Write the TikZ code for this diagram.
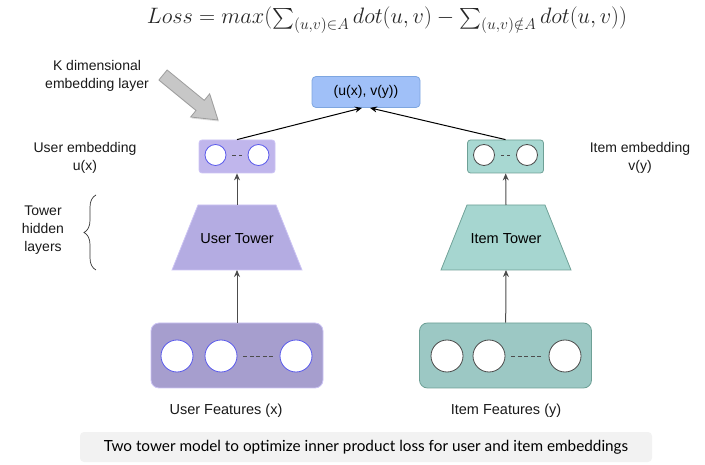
\RequirePackage{fix-cm}
\documentclass[tikz,border=0pt]{standalone}
\usepackage{amsmath}
\usepackage{fontspec}
\setmainfont{Liberation Sans}
\newfontfamily\capfont{Lato}
\usetikzlibrary{arrows.meta,decorations.pathreplacing,shadows}

\definecolor{pairFill}{RGB}{160,192,248}
\definecolor{pairLine}{RGB}{126,166,224}
\definecolor{userEmb}{RGB}{192,182,236}
\definecolor{userTow}{RGB}{180,172,226}
\definecolor{userFeat}{RGB}{166,158,206}
\definecolor{userLine}{RGB}{204,196,244}
\definecolor{userCirc}{RGB}{90,90,235}
\definecolor{itemEmb}{RGB}{168,216,210}
\definecolor{itemTow}{RGB}{166,214,208}
\definecolor{itemFeat}{RGB}{156,200,196}
\definecolor{itemLine}{RGB}{110,160,150}
\definecolor{itemCirc}{RGB}{75,75,75}
\definecolor{capFill}{RGB}{242,242,242}

\begin{document}
\begin{tikzpicture}[x=1pt, y=-1pt, >={Stealth[length=7pt,width=6pt]},
    lbl/.style={font=\fontsize{14}{18}\selectfont, align=center, text=black!90},
    embbox/.style={rounded corners=3pt, minimum width=76pt, minimum height=33pt, line width=0.8pt},
    featbox/.style={rounded corners=8pt, minimum width=172pt, minimum height=65pt, line width=0.8pt},
    ucirc/.style={circle, draw=userCirc, fill=white, line width=0.8pt, inner sep=0pt},
    icirc/.style={circle, draw=itemCirc, fill=white, line width=0.8pt, inner sep=0pt},
    dots/.style={dash pattern=on 4pt off 2.5pt, line width=0.9pt, black!70},
    arr/.style={->, line width=1pt}]
    \useasboundingbox (0,0) rectangle (705,465);

    % ==================== CÔNG THỨC ====================
    \node[text=black!85, font=\fontsize{22.3}{25}\selectfont, anchor=base, inner sep=0pt] (loss) at (387,24)
        {$Loss = max(\sum_{(u,v)\in A} dot(u,v) - \sum_{(u,v)\notin A} dot(u,v))$};

    % ==================== NHÁNH NGƯỜI DÙNG ====================
    % Hộp đặc trưng
    \node[featbox, fill=userFeat, draw=userLine] (uFeat) at (237,355.5) {};
    \node[ucirc, minimum size=32pt] (uf1) at (177,356) {};
    \node[ucirc, minimum size=32pt] (uf2) at (221,356) {};
    \node[ucirc, minimum size=32pt] (uf3) at (296,356) {};
    \draw[dots] ([xshift=6pt]uf2.east) -- ([xshift=-6pt]uf3.west);
    \node[lbl, font=\fontsize{14.5}{18}\selectfont] (uFeatLbl) at (226,411) {User Features (x)};

    % Tháp (hình thang)
    \draw[fill=userTow, draw=userLine, line width=0.8pt] (172,270) -- (198,205) -- (276,205) -- (302,270) -- cycle;
    \coordinate (uTowTop) at (237,205);
    \coordinate (uTowBot) at (237,270);
    \node[font=\fontsize{14.5}{17}\selectfont] (uTower) at (237,239) {User Tower};

    % Lớp nhúng
    \node[embbox, fill=userEmb, draw=userLine] (uEmb) at (237,156.5) {};
    \node[ucirc, minimum size=21pt] (ue1) at (215.5,155) {};
    \node[ucirc, minimum size=21pt] (ue2) at (258.5,155) {};
    \draw[dots, dash pattern=on 3.5pt off 3pt] ([xshift=6pt]ue1.east) -- ([xshift=-6pt]ue2.west);

    % ==================== NHÁNH SẢN PHẨM ====================
    \node[featbox, fill=itemFeat, draw=itemLine] (iFeat) at (505.5,355.5) {};
    \node[icirc, minimum size=32pt] (if1) at (447,356) {};
    \node[icirc, minimum size=32pt] (if2) at (489,356) {};
    \node[icirc, minimum size=32pt] (if3) at (565,356) {};
    \draw[dots] ([xshift=6pt]if2.east) -- ([xshift=-6pt]if3.west);
    \node[lbl, font=\fontsize{14.5}{18}\selectfont] (iFeatLbl) at (506,411) {Item Features (y)};

    \draw[fill=itemTow, draw=itemLine, line width=0.8pt] (441,270) -- (467,205) -- (545,205) -- (571,270) -- cycle;
    \coordinate (iTowTop) at (506,205);
    \coordinate (iTowBot) at (506,270);
    \node[font=\fontsize{14.5}{17}\selectfont] (iTower) at (506,239) {Item Tower};

    \node[embbox, fill=itemEmb, draw=itemLine] (iEmb) at (505.5,156.5) {};
    \node[icirc, minimum size=21pt] (ie1) at (484,155) {};
    \node[icirc, minimum size=21pt] (ie2) at (527,155) {};
    \draw[dots, dash pattern=on 3.5pt off 3pt] ([xshift=6pt]ie1.east) -- ([xshift=-6pt]ie2.west);

    % ==================== CẶP NHÚNG ====================
    \node[rounded corners=4pt, fill=pairFill, draw=pairLine, line width=0.8pt,
        minimum width=108pt, minimum height=31pt, font=\fontsize{14}{17}\selectfont] (pair) at (366,92) {(u(x), v(y))};

    % Mũi tên
    \draw[arr, black!70] (uFeat) -- (uTowBot);
    \draw[arr, black!70] (uTowTop) -- (uEmb);
    \draw[arr, black!70] (iFeat) -- (iTowBot);
    \draw[arr, black!70] (iTowTop) -- (iEmb);
    \draw[arr] (uEmb.north) -- ([xshift=-4pt]pair.south);
    \draw[arr] (iEmb.north) -- ([xshift=4pt]pair.south);

    % ==================== CHÚ THÍCH ====================
    \node[lbl] (uEmbLbl) at (85,158) {User embedding\\u(x)};
    \node[lbl] (iEmbLbl) at (640,158) {Item embedding\\v(y)};
    \node[lbl] (hidLbl) at (43,230) {Tower\\hidden\\layers};
    \draw[decorate, decoration={brace, amplitude=12pt}, line width=0.7pt, black!80] (96,270) -- (96,195);

    \node[lbl] (kLbl) at (97,76) {K dimensional\\embedding layer};
    % Mũi tên khối xám
    \draw[fill=black!22, draw=black!38, line width=0.8pt,
        drop shadow={shadow xshift=1pt, shadow yshift=-1.5pt, opacity=0.25},
        shift={(163,75)}, rotate=-39.3]
        (0,-6.5) -- (48,-6.5) -- (48,-15) -- (71,0) -- (48,15) -- (48,6.5) -- (0,6.5) -- cycle;

    % Hộp tiêu đề dưới
    \node[fill=capFill, rounded corners=4pt, minimum width=572pt, minimum height=30pt,
        font=\capfont\fontsize{15.3}{17}\selectfont] (caption) at (366,447)
        {Two tower model to optimize inner product loss for user and item embeddings};
\end{tikzpicture}
\end{document}
